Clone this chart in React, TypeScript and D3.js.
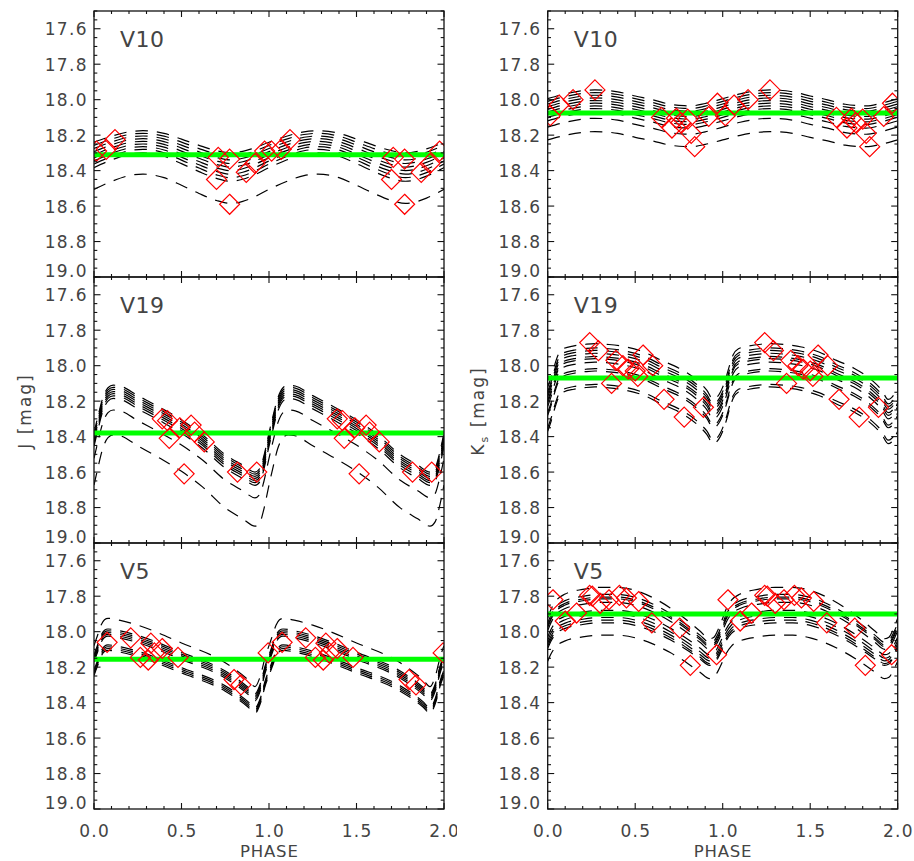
import React from 'react';
import * as d3 from 'd3';

// ---------- axis ticks ----------
const phaseTicks = [0, 0.5, 1.0, 1.5, 2.0];
const phaseTickLabels = ['0.0', '0.5', '1.0', '1.5', '2.0'];
const magTicks = [17.6, 17.8, 18.0, 18.2, 18.4, 18.6, 18.8, 19.0];
const magTickLabels = ['17.6', '17.8', '18.0', '18.2', '18.4', '18.6', '18.8', '19.0'];
const starNames = ['V10', 'V19', 'V5'];

// ---------- V10 J ----------
const v10JShapePhase = [0, 0.1, 0.2, 0.28, 0.4, 0.5, 0.6, 0.7, 0.78, 0.85, 0.9, 1.0];
const v10JShapeLevel = [0.52, 0.25, 0.05, 0, 0.12, 0.38, 0.66, 0.9, 1.0, 0.93, 0.82, 0.52];
const v10JBright = [18.175, 18.19, 18.205, 18.22, 18.235, 18.25, 18.265, 18.28, 18.30, 18.42];
const v10JFaint = [18.30, 18.32, 18.34, 18.36, 18.38, 18.40, 18.42, 18.44, 18.46, 18.585];
const v10JMean = 18.31;
const v10JObsPhase = [0.015, 0.07, 0.12, 0.70, 0.71, 0.775, 0.775, 0.87, 0.92, 0.975];
const v10JObsMag = [18.29, 18.28, 18.225, 18.45, 18.325, 18.335, 18.59, 18.41, 18.36, 18.29];

// ---------- V10 Ks ----------
const v10KShapePhase = [0, 0.1, 0.2, 0.27, 0.4, 0.5, 0.6, 0.7, 0.78, 0.82, 0.9, 1.0];
const v10KShapeLevel = [0.55, 0.25, 0.05, 0, 0.12, 0.38, 0.62, 0.9, 0.99, 1.0, 0.85, 0.55];
const v10KBright = [17.945, 17.96, 17.975, 17.99, 18.005, 18.02, 18.035, 18.05, 18.07, 18.105, 18.18];
const v10KFaint = [18.035, 18.05, 18.065, 18.08, 18.095, 18.11, 18.125, 18.14, 18.16, 18.195, 18.265];
const v10KMean = 18.075;
const v10KObsPhase = [0.015, 0.065, 0.145, 0.27, 0.65, 0.71, 0.735, 0.76, 0.80, 0.82, 0.84, 0.92, 0.97];
const v10KObsMag = [18.09, 18.03, 18.0, 17.945, 18.10, 18.16, 18.105, 18.13, 18.11, 18.19, 18.265, 18.095, 18.02];

// ---------- V19 J ----------
const v19JShapePhase = [0, 0.02, 0.05, 0.08, 0.11, 0.15, 0.25, 0.38, 0.5, 0.62, 0.75, 0.85, 0.92, 0.95, 0.97, 1.0];
const v19JShapeLevel = [0.55, 0.38, 0.15, 0.03, 0, 0.01, 0.12, 0.26, 0.4, 0.57, 0.8, 0.92, 1.0, 0.95, 0.82, 0.55];
const v19JBright = [18.11, 18.122, 18.134, 18.146, 18.158, 18.17, 18.185, 18.25, 18.39];
const v19JFaint = [18.60, 18.612, 18.624, 18.636, 18.648, 18.66, 18.675, 18.745, 18.905];
const v19JMean = 18.38;
const v19JObsPhase = [0.39, 0.42, 0.43, 0.49, 0.555, 0.575, 0.63, 0.515, 0.82, 0.93];
const v19JObsMag = [18.30, 18.31, 18.41, 18.35, 18.335, 18.375, 18.43, 18.61, 18.60, 18.60];

// ---------- V19 Ks ----------
const v19KShapePhase = [0, 0.02, 0.04, 0.06, 0.09, 0.15, 0.22, 0.27, 0.35, 0.45, 0.55, 0.65, 0.75, 0.85, 0.91, 0.945, 0.965, 0.985, 1.0];
const v19KShapeLevel = [0.78, 0.6, 0.38, 0.2, 0.09, 0.04, 0.01, 0, 0.015, 0.06, 0.15, 0.3, 0.44, 0.65, 0.84, 1.0, 0.97, 0.88, 0.78];
const v19KBright = [17.876, 17.90, 17.914, 17.93, 17.948, 17.96, 17.98, 18.017, 18.03, 18.105, 18.12];
const v19KFaint = [18.19, 18.215, 18.23, 18.245, 18.265, 18.28, 18.30, 18.335, 18.35, 18.42, 18.44];
const v19KMean = 18.07;
const v19KObsPhase = [0.24, 0.29, 0.365, 0.39, 0.43, 0.46, 0.50, 0.515, 0.545, 0.60, 0.665, 0.78, 0.89];
const v19KObsMag = [17.87, 17.915, 18.10, 17.97, 18.0, 18.02, 18.03, 18.06, 17.94, 18.0, 18.19, 18.29, 18.235];

// ---------- V5 J ----------
const v5JShapePhase = [0, 0.02, 0.04, 0.06, 0.08, 0.15, 0.25, 0.5, 0.75, 0.88, 0.92, 0.95, 0.98, 1.0];
const v5JShapeLevel = [0.4, 0.25, 0.1, 0.02, 0, 0.03, 0.1, 0.36, 0.65, 0.9, 1.0, 0.85, 0.55, 0.4];
const v5JBright = [17.925, 17.985, 17.995, 18.005, 18.015, 18.025, 18.075, 18.085, 18.095, 18.105];
const v5JFaint = [18.31, 18.35, 18.36, 18.37, 18.38, 18.39, 18.43, 18.44, 18.45, 18.46];
const v5JMean = 18.155;
const v5JObsPhase = [0.075, 0.21, 0.265, 0.31, 0.325, 0.345, 0.39, 0.48, 0.80, 0.84, 0.995];
const v5JObsMag = [18.06, 18.035, 18.145, 18.16, 18.065, 18.12, 18.095, 18.145, 18.27, 18.30, 18.12];

// ---------- V5 Ks ----------
const v5KShapePhase = [0, 0.02, 0.05, 0.1, 0.2, 0.3, 0.4, 0.5, 0.6, 0.7, 0.8, 0.87, 0.925, 0.95, 0.97, 1.0];
const v5KShapeLevel = [0.6, 0.42, 0.25, 0.13, 0.04, 0, 0, 0.06, 0.2, 0.4, 0.65, 0.85, 1.0, 0.97, 0.85, 0.6];
const v5KBright = [17.75, 17.79, 17.805, 17.815, 17.835, 17.88, 17.90, 17.92, 17.935, 17.95, 18.02];
const v5KFaint = [18.04, 18.06, 18.075, 18.085, 18.10, 18.13, 18.15, 18.165, 18.18, 18.19, 18.265];
const v5KMean = 17.90;
const v5KObsPhase = [0.03, 0.10, 0.165, 0.24, 0.255, 0.30, 0.35, 0.41, 0.45, 0.52, 0.595, 0.755, 0.815, 0.965];
const v5KObsMag = [17.82, 17.94, 17.895, 17.795, 17.80, 17.84, 17.82, 17.795, 17.81, 17.83, 17.95, 17.98, 18.19, 18.13];

// ---------- layout ----------
const colX = [94, 547.7];
const rowY = [11, 277, 543];
const PW = 350;
const PH = 266;
const FONT = "'DejaVu Sans', 'Liberation Sans', sans-serif";
const TXT = '#444';

type Panel = {
  row: number; col: number; name: string;
  sp: number[]; sl: number[]; bright: number[]; faint: number[];
  mean: number; op: number[]; om: number[];
};

const panels: Panel[] = [
  { row: 0, col: 0, name: starNames[0], sp: v10JShapePhase, sl: v10JShapeLevel, bright: v10JBright, faint: v10JFaint, mean: v10JMean, op: v10JObsPhase, om: v10JObsMag },
  { row: 0, col: 1, name: starNames[0], sp: v10KShapePhase, sl: v10KShapeLevel, bright: v10KBright, faint: v10KFaint, mean: v10KMean, op: v10KObsPhase, om: v10KObsMag },
  { row: 1, col: 0, name: starNames[1], sp: v19JShapePhase, sl: v19JShapeLevel, bright: v19JBright, faint: v19JFaint, mean: v19JMean, op: v19JObsPhase, om: v19JObsMag },
  { row: 1, col: 1, name: starNames[1], sp: v19KShapePhase, sl: v19KShapeLevel, bright: v19KBright, faint: v19KFaint, mean: v19KMean, op: v19KObsPhase, om: v19KObsMag },
  { row: 2, col: 0, name: starNames[2], sp: v5JShapePhase, sl: v5JShapeLevel, bright: v5JBright, faint: v5JFaint, mean: v5JMean, op: v5JObsPhase, om: v5JObsMag },
  { row: 2, col: 1, name: starNames[2], sp: v5KShapePhase, sl: v5KShapeLevel, bright: v5KBright, faint: v5KFaint, mean: v5KMean, op: v5KObsPhase, om: v5KObsMag },
];

function PanelView({ p, idx }: { p: Panel; idx: number }) {
  const x0 = colX[p.col];
  const y0 = rowY[p.row];
  const xs = d3.scaleLinear().domain([0, 2]).range([x0, x0 + PW]);
  const ys = d3.scaleLinear().domain([17.5, 19.0]).range([y0, y0 + PH]);
  const line = d3.line<[number, number]>()
    .x(d => xs(d[0]))
    .y(d => ys(d[1]))
    .curve(d3.curveMonotoneX);

  const curves = p.bright.map((b, i) => {
    const f = p.faint[i];
    const pts: [number, number][] = [];
    for (let c = 0; c < 2; c++) {
      p.sp.forEach((ph, j) => {
        if (c === 1 && j === 0) return;
        pts.push([ph + c, b + (f - b) * p.sl[j]]);
      });
    }
    return line(pts) || '';
  });

  const obs: [number, number][] = [];
  for (let c = 0; c < 2; c++) p.op.forEach((ph, j) => obs.push([ph + c, p.om[j]]));

  const minorX = d3.range(0, 21).map(i => i / 10);
  const minorY = d3.range(0, 31).map(i => 17.5 + i * 0.05);
  const D = 10;

  return (
    <g>
      <g clipPath={`url(#clip${idx})`}>
        {curves.map((d, i) => (
          <path key={i} d={d} fill="none" stroke="#000" strokeWidth={1.2} strokeDasharray="12.5,9" />
        ))}
        <line x1={x0} x2={x0 + PW} y1={ys(p.mean)} y2={ys(p.mean)} stroke="#00ff00" strokeWidth={5} />
        {obs.map((o, i) => {
          const cx = xs(o[0]);
          const cy = ys(o[1]);
          return (
            <path key={i} d={`M${cx},${cy - D}L${cx + D},${cy}L${cx},${cy + D}L${cx - D},${cy}Z`}
              fill="none" stroke="#ff0000" strokeWidth={1.2} />
          );
        })}
      </g>
      {/* frame */}
      <rect x={x0} y={y0} width={PW} height={PH} fill="none" stroke="#111" strokeWidth={1.3} />
      {/* x ticks */}
      {minorX.map((v, i) => {
        const major = i % 5 === 0;
        const len = major ? 6 : 3;
        const x = xs(v);
        return (
          <g key={'xt' + i}>
            <line x1={x} x2={x} y1={y0 + PH} y2={y0 + PH - len} stroke="#111" strokeWidth={1.1} />
            <line x1={x} x2={x} y1={y0} y2={y0 + len} stroke="#111" strokeWidth={1.1} />
          </g>
        );
      })}
      {/* y ticks */}
      {minorY.map((v, i) => {
        const major = (i - 2) % 4 === 0;
        const len = major ? 6.5 : 3.3;
        const y = ys(v);
        return (
          <g key={'yt' + i}>
            <line x1={x0} x2={x0 + len} y1={y} y2={y} stroke="#111" strokeWidth={1.1} />
            <line x1={x0 + PW} x2={x0 + PW - len} y1={y} y2={y} stroke="#111" strokeWidth={1.1} />
          </g>
        );
      })}
      {/* y tick labels */}
      {magTicks.map((v, i) => {
        const last = i === magTicks.length - 1;
        return (
          <text key={'yl' + i} x={x0 - 7.5 + 1.3} y={ys(v) + (last ? -0.5 : 6.5)} textAnchor="end"
            fontSize={17} letterSpacing={1.3} fill={TXT} fontFamily={FONT}>{magTickLabels[i]}</text>
        );
      })}
      {/* star name */}
      <text x={x0 + 26} y={y0 + 36} fontSize={22} fill={TXT} fontFamily={FONT} letterSpacing={0.5}>{p.name}</text>
      {/* x tick labels on bottom row */}
      {p.row === 2 && (
        <g clipPath={p.col === 0 ? 'url(#leftLabels)' : undefined}>
          {phaseTicks.map((v, i) => (
            <text key={'xl' + i} x={xs(v) + 0.65} y={y0 + PH + 28} textAnchor="middle"
              fontSize={17} letterSpacing={1.3} fill={TXT} fontFamily={FONT}>{phaseTickLabels[i]}</text>
          ))}
          <text x={x0 + PW / 2 + 0.35} y={857} textAnchor="middle" fontSize={16.5} letterSpacing={0.8}
            fill={TXT} fontFamily={FONT}>PHASE</text>
        </g>
      )}
    </g>
  );
}

export default function App() {
  return (
    <svg width={914} height={861} style={{ position: 'absolute', left: 0, top: 0, background: '#fff' }}>
      <defs>
        {panels.map((p, i) => (
          <clipPath key={i} id={`clip${i}`}>
            <rect x={colX[p.col]} y={rowY[p.row]} width={PW} height={PH} />
          </clipPath>
        ))}
        <clipPath id="leftLabels">
          <rect x={0} y={0} width={457} height={861} />
        </clipPath>
      </defs>
      <rect x={0} y={0} width={914} height={861} fill="#fff" />
      {panels.map((p, i) => <PanelView key={i} p={p} idx={i} />)}
      <text transform="translate(31,411) rotate(-90)" textAnchor="middle" fontSize={17} letterSpacing={2}
        fill={TXT} fontFamily={FONT}>J [mag]</text>
      <text transform="translate(484,411) rotate(-90)" textAnchor="middle" fontSize={17} letterSpacing={2}
        fill={TXT} fontFamily={FONT}>
        <tspan>K</tspan>
        <tspan fontSize={11} dy={4}>s</tspan>
        <tspan dy={-4}> [mag]</tspan>
      </text>
    </svg>
  );
}
